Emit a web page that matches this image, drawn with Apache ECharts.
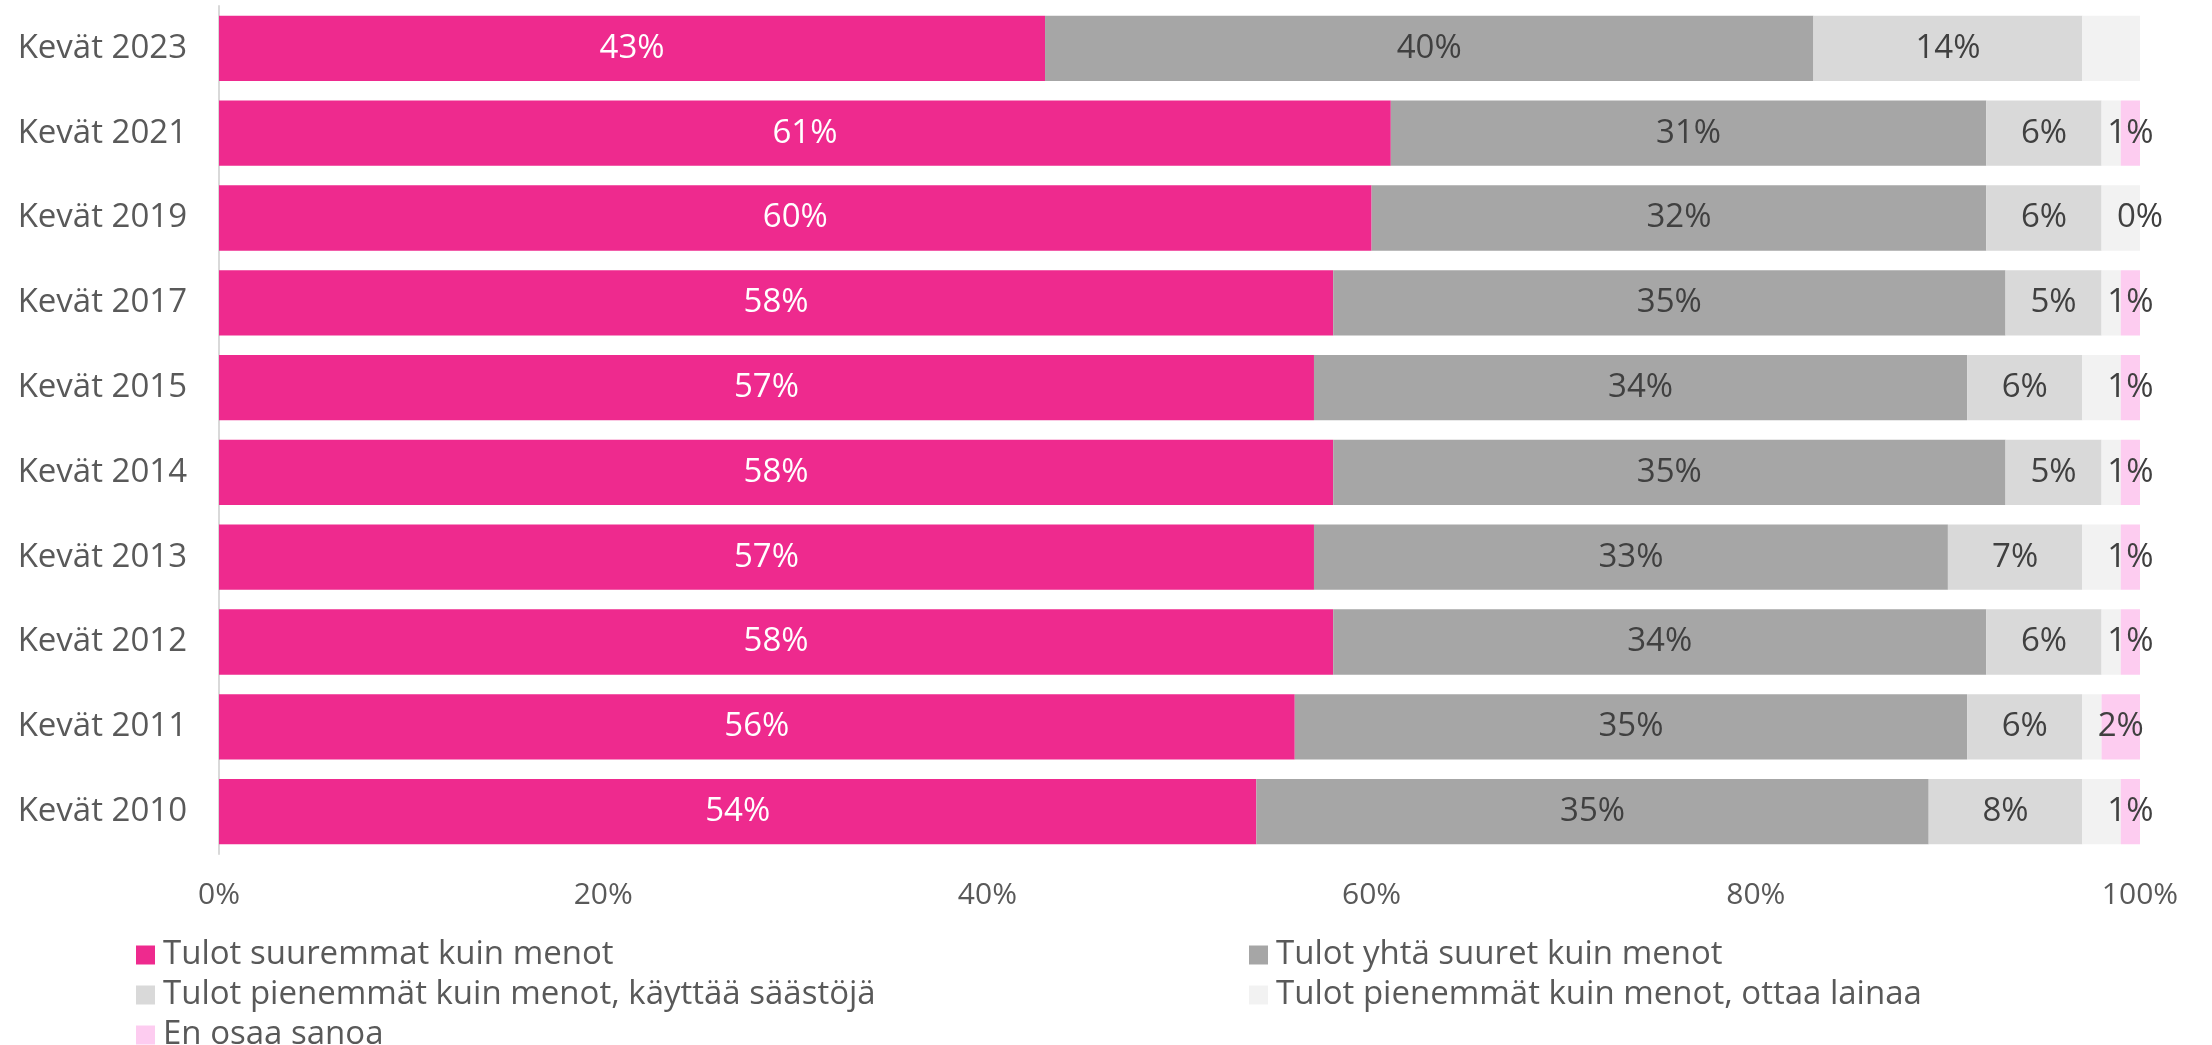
<!DOCTYPE html>
<html>
<head>
<meta charset="utf-8">
<script src="https://cdn.jsdelivr.net/npm/echarts@6/dist/echarts.min.js"></script>
<style>html,body{margin:0;padding:0;background:#fff;}#c{width:2212px;height:1045px;}</style>
</head>
<body>
<div id="c"></div>
<script>
const categories = ['Kevät 2023','Kevät 2021','Kevät 2019','Kevät 2017','Kevät 2015','Kevät 2014','Kevät 2013','Kevät 2012','Kevät 2011','Kevät 2010'];
const seriesNames = ['Tulot suuremmat kuin menot','Tulot yhtä suuret kuin menot','Tulot pienemmät kuin menot, käyttää säästöjä','Tulot pienemmät kuin menot, ottaa lainaa','En osaa sanoa'];
const suuremmat = [43,61,60,58,57,58,57,58,56,54];
const yhtaSuuret = [40,31,32,35,34,35,33,34,35,35];
const saastoja = [14,6,6,5,6,5,7,6,6,8];
const lainaa = [3,1,2,1,2,1,2,1,1,2];
const enOsaa = [null,1,0,1,1,1,1,1,2,1];
const xTicks = [0,20,40,60,80,100];

const colors = ['#EE2A8E','#A6A6A6','#D9D9D9','#F2F2F2','#FDCCF0'];
const labelColors = ['#FFFFFF','#404040','#404040','#404040','#404040'];
const showLabel = [true,true,true,false,true];
const FONT = 'Open Sans';
const allData = [suuremmat, yhtaSuuret, saastoja, lainaa, enOsaa];

const chart = echarts.init(document.getElementById('c'), null, {renderer:'canvas'});
const series = allData.map((d,i)=>({
  name: seriesNames[i],
  type: 'bar',
  stack: 'total',
  data: d,
  barCategoryGap: '23%',
  itemStyle: {color: colors[i]},
  label: {
    show: showLabel[i],
    position: 'inside',
    formatter: p => (p.value === null || p.value === undefined) ? '' : p.value + '%',
    color: labelColors[i],
    fontFamily: FONT,
    fontSize: 33,
    textBorderWidth: 0
  },
  emphasis: {disabled: true},
  animation: false
}));

// legend placement: [left, centerY] per series
const legendPos = [[136,955],[1249,955],[136,995],[1249,995],[136,1035]];
const legends = seriesNames.map((n,i)=>({
  data: [n],
  orient: 'horizontal', left: legendPos[i][0], top: legendPos[i][1]-20,
  itemWidth: 19, itemHeight: 19, itemGap: 0, padding: 0,
  icon: 'rect', selectedMode: false,
  textStyle: {color: '#595959', fontFamily: FONT, fontSize: 33, lineHeight: 40, padding: [0,0,0,3]}
}));

chart.setOption({
  backgroundColor: '#fff',
  animation: false,
  grid: {left: 219, right: 72, top: 6, bottom: 191, containLabel: false},
  xAxis: {
    type: 'value', min: xTicks[0], max: xTicks[xTicks.length-1], interval: 20,
    axisLine: {show: false}, axisTick: {show: false}, splitLine: {show: false},
    axisLabel: {formatter: '{value}%', color: '#595959', fontFamily: FONT, fontSize: 30, margin: 26}
  },
  yAxis: {
    type: 'category', data: categories, inverse: true,
    axisLine: {show: true, lineStyle: {color: '#D9D9D9', width: 2}},
    axisTick: {show: false},
    axisLabel: {color: '#595959', fontFamily: FONT, fontSize: 33, margin: 32}
  },
  legend: legends,
  series: series
});
</script>
</body>
</html>
